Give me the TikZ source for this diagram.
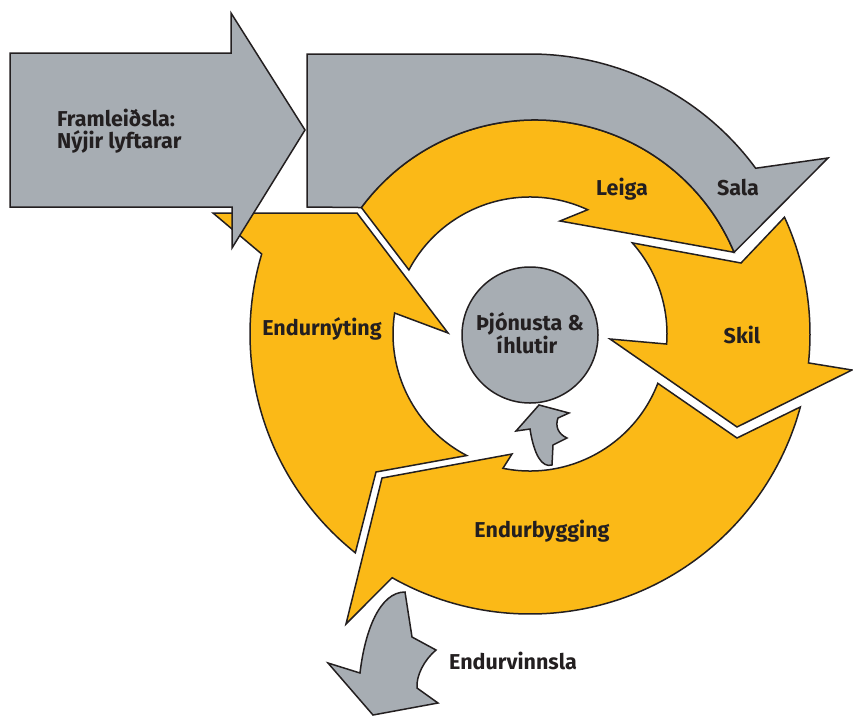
\documentclass[tikz,border=0pt]{standalone}
\usepackage{fontspec}
\setmainfont{Fira Sans}
\usetikzlibrary{calc}
\definecolor{ylw}{RGB}{251,185,23}
\definecolor{gry}{RGB}{167,173,179}
\definecolor{ink}{RGB}{35,31,32}
\begin{document}
\begin{tikzpicture}[x=1pt,y=1pt,yscale=-1,line join=miter,
  shapeY/.style={fill=ylw,draw=ink,line width=1.5pt},
  shapeG/.style={fill=gry,draw=ink,line width=1.5pt},
  lbl/.style={font=\fontsize{21.5}{25}\selectfont\bfseries,text=ink,inner sep=0pt,anchor=base}]
\useasboundingbox (0,0) rectangle (853,715);
\coordinate (C) at (530,334);
\coordinate (L) at (535,336);
% Endurnyting (left)
\draw[shapeY] ($(C)+(128.6:280)$) arc[start angle=128.6,end angle=196.6,radius=280]
  -- (213,213) -- (357,213) -- (448,333)
  -- ($(C)+(188.8:137)$) arc[start angle=188.8,end angle=117.5,radius=137]
  -- (376,472) -- cycle;
% Framleidsla arrow
\draw[shapeG] (10,53) -- (231,53) -- (231,13) -- (305,130) -- (232,248) -- (232,207) -- (10,207) -- cycle;
% Leiga (top inner)
\draw[shapeY] ($(L)+(216.5:216)$) -- ($(C)+(207.9:137)$) arc[start angle=207.9,end angle=294.9,radius=137]
  -- (560,221) -- ($(L)+(337.2:216)$) arc[start angle=337.2,end angle=216.5,radius=216] -- cycle;
% Sala (top outer)
\draw[shapeG] (307,54) -- ($(C)+(270:280)$) arc[start angle=270,end angle=323.7,radius=280]
  -- (828,158) -- ($(L)+(337.2:216)$) arc[start angle=337.2,end angle=216.5,radius=216]
  -- (307,207) -- cycle;
% Skil (right)
\draw[shapeY] ($(C)+(-24.65:280)$) arc[start angle=-24.65,end angle=5.93,radius=280]
  -- (852,370) -- (737,427) -- (610,339)
  -- ($(C)+(4.2:137)$) arc[start angle=4.2,end angle=-41.7,radius=137]
  -- (741,263) -- cycle;
% Endurbygging (bottom)
\draw[shapeY] ($(C)+(15.1:280)$) arc[start angle=15.1,end angle=119.5,radius=280]
  -- (346,624) -- (382,478) -- (512,454)
  -- ($(C)+(101.4:137)$) arc[start angle=101.4,end angle=21.1,radius=137]
  -- (737,438) -- cycle;
% hub
\node[circle,shapeG,minimum size=136pt,inner sep=0pt] (hub) at (530,335) {};
% small arrow into hub
\draw[shapeG] (539,405) -- (569,413) -- (558,418) .. controls (555,426) and (558,434) .. (567,438)
  -- (553,445) -- (552,465) .. controls (542,468) and (534,455) .. (530,429) -- (516,431) -- cycle;
% Endurvinnsla arrow
\draw[shapeG] (405,592) -- (412,637) -- (436,650) .. controls (424,660) and (416,676) .. (417,688)
  -- (438,703) -- (373,715) -- (328,663) -- (360,673) .. controls (365,630) and (380,592) .. (405,592) -- cycle;
% labels
\node[lbl] (leiga) at (622,195) {Leiga};
\node[lbl] (sala) at (738,195) {Sala};
\node[lbl] (skil) at (742,343) {Skil};
\node[lbl] (endurnyting) at (322,335) {Endurnýting};
\node[lbl] (thj1) at (530,330) {Þjónusta \&};
\node[lbl] (thj2) at (527,353) {íhlutir};
\node[lbl] (endurbygging) at (542,537) {Endurbygging};
\node[lbl] (endurvinnsla) at (513,669) {Endurvinnsla};
\node[lbl,anchor=base west] (fr1) at (57,126) {Framleiðsla:};
\node[lbl,anchor=base west] (fr2) at (57,148) {Nýjir lyftarar};
\end{tikzpicture}
\end{document}
